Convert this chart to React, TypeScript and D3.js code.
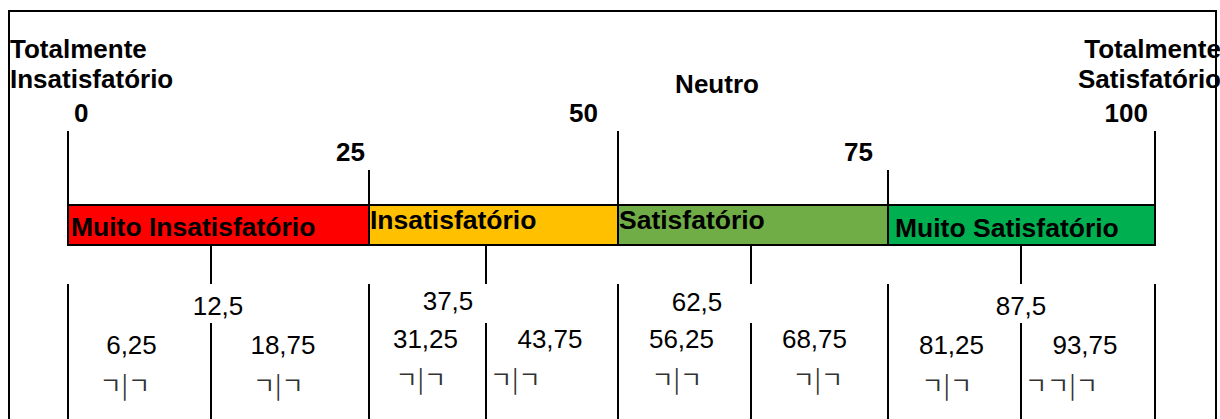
import React from "react";
import * as d3 from "d3";

// scale stops (value -> drawn position is set in the layout section below)
const stops = [0, 12.5, 25, 37.5, 50, 62.5, 75, 87.5, 100];

const categories = ["Muito Insatisfatório", "Insatisfatório", "Satisfatório", "Muito Satisfatório"];
const categoryFrom = [0, 25, 50, 75];
const categoryTo = [25, 50, 75, 100];
const categoryColors = ["#FF0000", "#FFC000", "#70AD47", "#00B050"];

const majorTicks = [0, 25, 50, 75, 100];
const majorLabels = ["0", "25", "50", "75", "100"];

const halfTicks = [12.5, 37.5, 62.5, 87.5];
const halfLabels = ["12,5", "37,5", "62,5", "87,5"];

const quarterTicks = [6.25, 18.75, 31.25, 43.75, 56.25, 68.75, 81.25, 93.75];
const quarterLabels = ["6,25", "18,75", "31,25", "43,75", "56,25", "68,75", "81,25", "93,75"];
const quarterMarks = ["ㄱ|ㄱ", "ㄱ|ㄱ", "ㄱ|ㄱ", "ㄱ|ㄱ", "ㄱ|ㄱ", "ㄱ|ㄱ", "ㄱ|ㄱ", "ㄱㄱ|ㄱ"];

const leftTitle = ["Totalmente", "Insatisfatório"];
const rightTitle = ["Totalmente", "Satisfatório"];
const midTitle = "Neutro";

// layout
const W = 1220;
const H = 419;
const stopX = [68, 211, 369, 486, 618, 751, 888, 1021, 1155];
const barTop = 205;
const barBottom = 245;
const FONT = "'Liberation Sans', Arial, Helvetica, sans-serif";

const majorLayout = [
  { dx: 6, anchor: "start", y: 122, lineTop: 131 },
  { dx: -4, anchor: "end", y: 161, lineTop: 170 },
  { dx: -20, anchor: "end", y: 122, lineTop: 131 },
  { dx: -15, anchor: "end", y: 161, lineTop: 170 },
  { dx: -7, anchor: "end", y: 122, lineTop: 131 },
];
const catLayout = [
  { dx: 3, y: 236 },
  { dx: 1, y: 229 },
  { dx: 1, y: 229 },
  { dx: 7, y: 237 },
];
const halfLayout = [
  { dx: 7, y: 315 },
  { dx: -38, y: 310 },
  { dx: -54, y: 311 },
  { dx: 0, y: 315 },
];
const quarterLayout = [
  { dx: -8, y: 354, mdx: -40 },
  { dx: -7, y: 354, mdx: -37 },
  { dx: -2, y: 348, mdx: -32 },
  { dx: -2, y: 348, mdx: -62 },
  { dx: -3, y: 348, mdx: -33 },
  { dx: -5, y: 348, mdx: -27 },
  { dx: -3, y: 354, mdx: -33 },
  { dx: -3, y: 354, mdx: -63 },
];

export default function App() {
  const x = d3.scaleLinear().domain(stops).range(stopX);

  return (
    <svg
      width={W}
      height={H}
      style={{ position: "absolute", left: 0, top: 0, background: "#fff" }}
      fontFamily={FONT}
    >
      {/* outer frame */}
      <rect x={9} y={11} width={1207} height={H + 10} fill="none" stroke="#000" strokeWidth={2} />

      {/* titles */}
      {leftTitle.map((t, i) => (
        <text key={"lt" + i} x={10} y={58 + i * 30} fontSize={26} fontWeight="bold">
          {t}
        </text>
      ))}
      {rightTitle.map((t, i) => (
        <text key={"rt" + i} x={1221} y={58 + i * 30} fontSize={26} fontWeight="bold" textAnchor="end">
          {t}
        </text>
      ))}
      <text x={x(50) + 99} y={93} fontSize={26} fontWeight="bold" textAnchor="middle">
        {midTitle}
      </text>

      {/* major ticks above and below bar */}
      {majorTicks.map((v, i) => (
        <g key={"mj" + v}>
          <line x1={x(v)} x2={x(v)} y1={majorLayout[i].lineTop} y2={barTop} stroke="#000" strokeWidth={2} />
          <line x1={x(v)} x2={x(v)} y1={284} y2={H} stroke="#000" strokeWidth={2} />
          <text
            x={x(v) + majorLayout[i].dx}
            y={majorLayout[i].y}
            fontSize={26}
            fontWeight="bold"
            textAnchor={majorLayout[i].anchor as any}
          >
            {majorLabels[i]}
          </text>
        </g>
      ))}

      {/* category bar */}
      {categories.map((c, i) => (
        <g key={c}>
          <rect
            x={x(categoryFrom[i])}
            y={barTop}
            width={x(categoryTo[i]) - x(categoryFrom[i])}
            height={barBottom - barTop}
            fill={categoryColors[i]}
            stroke="#000"
            strokeWidth={2}
          />
          <text
            x={x(categoryFrom[i]) + catLayout[i].dx}
            y={catLayout[i].y}
            fontSize={26.5}
            fontWeight="bold"
          >
            {c}
          </text>
        </g>
      ))}

      {/* half ticks below bar */}
      {halfTicks.map((v, i) => (
        <g key={"hf" + v}>
          <line x1={x(v)} x2={x(v)} y1={barBottom} y2={284} stroke="#000" strokeWidth={2} />
          <line x1={x(v)} x2={x(v)} y1={323} y2={H} stroke="#000" strokeWidth={2} />
          <text x={x(v) + halfLayout[i].dx} y={halfLayout[i].y} fontSize={26} textAnchor="middle">
            {halfLabels[i]}
          </text>
        </g>
      ))}

      {/* quarter labels with their glyph marks */}
      {quarterTicks.map((v, i) => (
        <g key={"qt" + v}>
          <text x={x(v) + quarterLayout[i].dx} y={quarterLayout[i].y} fontSize={26} textAnchor="middle">
            {quarterLabels[i]}
          </text>
          <text
            x={x(v) + quarterLayout[i].mdx}
            y={quarterLayout[i].y + 40}
            fontSize={24}
            fill="#333"
            fontFamily="'Noto Sans CJK KR', sans-serif"
          >
            {quarterMarks[i]}
          </text>
        </g>
      ))}
    </svg>
  );
}
